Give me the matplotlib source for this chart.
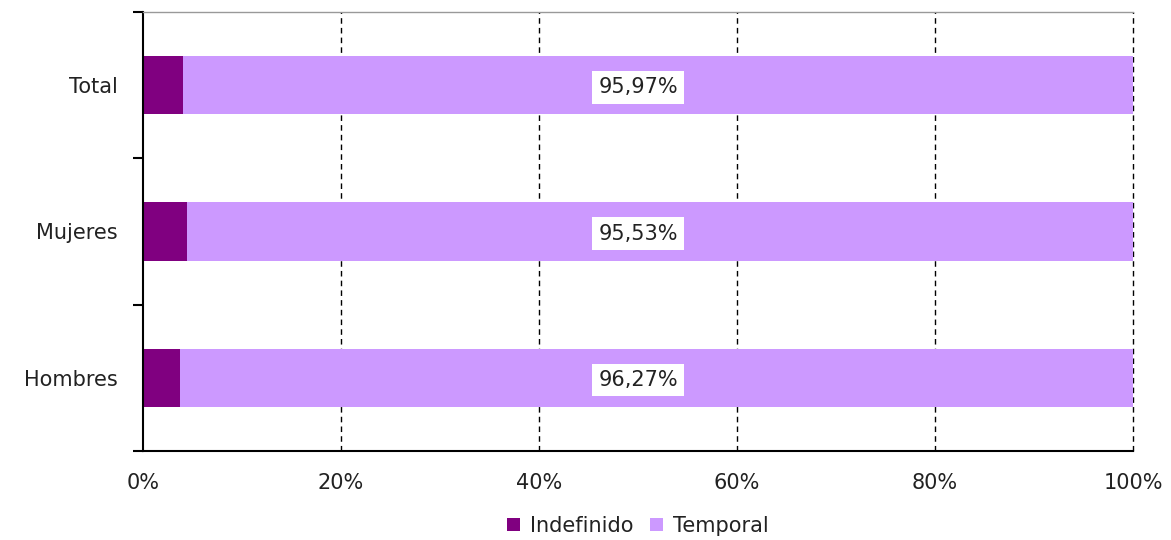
import matplotlib.pyplot as plt
import numpy as np

categories = ['Hombres', 'Mujeres', 'Total']
indefinido = [3.73, 4.47, 4.03]
temporal = [96.27, 95.53, 95.97]
labels = ['96,27%', '95,53%', '95,97%']

plt.rcParams['font.family'] = 'DejaVu Sans'

fig = plt.figure(figsize=(11.71, 5.40), dpi=100)
ax = fig.add_axes([0.1221, 0.1648, 0.8454, 0.813])

y = np.arange(len(categories))
ax.barh(y, indefinido, height=0.4, color='#800080', label='Indefinido')
ax.barh(y, temporal, left=indefinido, height=0.4, color='#CC99FF', label='Temporal')

for i in range(len(categories)):
    ax.text(50, y[i] - 0.015, labels[i], ha='center', va='center', fontsize=15, color='#222222',
            bbox=dict(facecolor='white', edgecolor='none', boxstyle='square,pad=0.3'))

ax.set_xlim(0, 100)
ax.set_ylim(-0.5, 2.5)
ax.set_xticks([0, 20, 40, 60, 80, 100])
ax.set_xticklabels(['0%', '20%', '40%', '60%', '80%', '100%'])
ax.set_yticks(y)
ax.set_yticklabels(categories)
ax.set_yticks([-0.5, 0.5, 1.5, 2.5], minor=True)
ax.set_xticks([0], minor=True)
ax.tick_params(axis='y', which='major', length=0, pad=18, labelsize=15, labelcolor='#222222')
ax.tick_params(axis='y', which='minor', length=7, width=1.5, direction='out')
ax.tick_params(axis='x', which='major', length=0, pad=16, labelsize=15, labelcolor='#222222')
ax.tick_params(axis='x', which='minor', length=7, width=1.5, direction='out')

for xv in [20, 40, 60, 80, 100]:
    ax.axvline(xv, color='black', linestyle=(0, (4, 3)), linewidth=1, zorder=0.5, clip_on=False)

ax.spines['right'].set_visible(False)
ax.spines['top'].set_color('#999999')
ax.spines['top'].set_linewidth(1)
ax.spines['left'].set_linewidth(1.5)
ax.spines['bottom'].set_linewidth(1.5)

ax.legend(loc='upper center', bbox_to_anchor=(0.5, -0.105), ncol=2, frameon=False,
          fontsize=15, handlelength=0.6, handleheight=0.6, handletextpad=0.5,
          columnspacing=0.8, labelcolor='#222222')

fig.savefig('out.png', dpi=100)
